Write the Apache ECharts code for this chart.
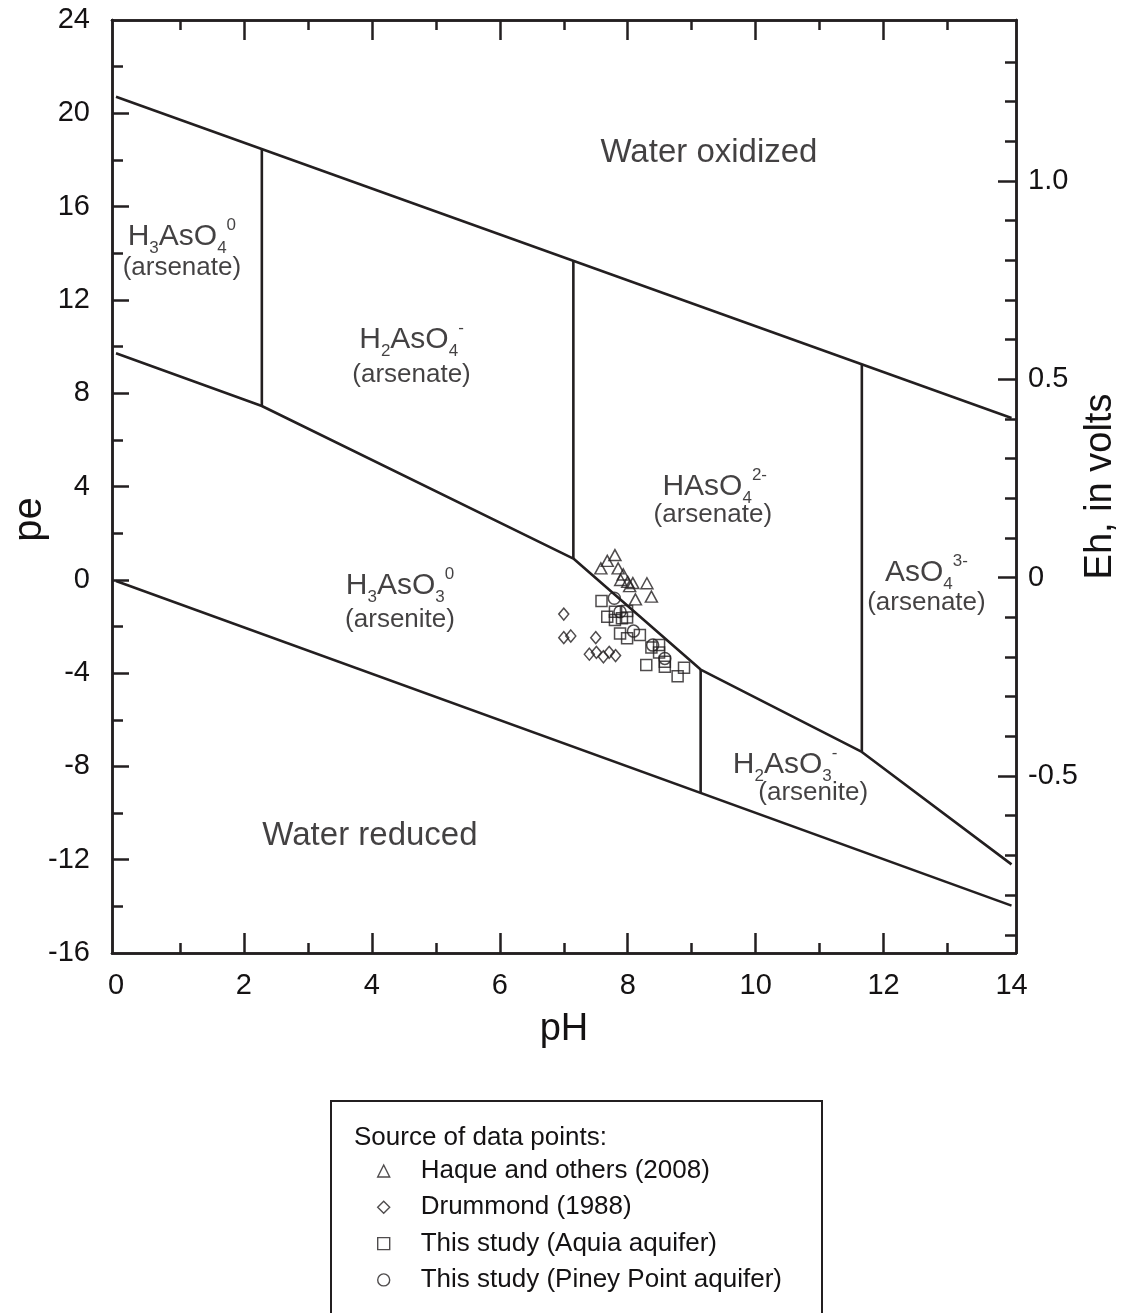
<!DOCTYPE html>
<html>
<head>
<meta charset="utf-8">
<script src="https://cdn.jsdelivr.net/npm/echarts@6/dist/echarts.min.js"></script>
<style>
html,body{margin:0;padding:0;background:#fff;}
#chart{width:1122px;height:1313px;}
</style>
</head>
<body>
<div id="chart"></div>
<script>
// ---- axis ticks / labels ----
const phTicksMajor = [2, 4, 6, 8, 10, 12];
const phTicksMinor = [1, 3, 5, 7, 9, 11, 13];
const phLabels = [0, 2, 4, 6, 8, 10, 12, 14];
const peTicksMajor = [-12, -8, -4, 0, 4, 8, 12, 16, 20];
const peTicksMinor = [-14, -10, -6, -2, 2, 6, 10, 14, 18, 22];
const peLabels = [-16, -12, -8, -4, 0, 4, 8, 12, 16, 20, 24];
const ehTicksMajor = [-0.5, 0, 0.5, 1.0];
const ehTicksMinor = [-0.9, -0.8, -0.7, -0.6, -0.4, -0.3, -0.2, -0.1, 0.1, 0.2, 0.3, 0.4, 0.6, 0.7, 0.8, 0.9, 1.1, 1.2, 1.3];
const ehLabels = [-0.5, 0, 0.5, 1.0];

// ---- stability field boundaries [pH, pe] ----
const waterOxidizedLine = [[0, 20.71], [14, 6.94]];
const waterReducedLine = [[0, -0.05], [14, -13.97]];
const arsenateArseniteLine = [[0, 9.71], [2.28, 7.45], [7.15, 0.91], [9.14, -3.85], [11.66, -7.38], [14, -12.20]];
const h3AsO4H2AsO4Line = [[2.28, 7.45], [2.28, 18.47]];
const h2AsO4HAsO4Line = [[7.15, 0.91], [7.15, 13.68]];
const hAsO4AsO4Line = [[11.66, -7.38], [11.66, 9.24]];
const h3AsO3H2AsO3Line = [[9.14, -3.85], [9.14, -9.14]];

// ---- data points [pH, pe] ----
const haque2008 = [[7.80, 1.06], [7.68, 0.81], [7.58, 0.49], [7.85, 0.49], [7.93, 0.23], [7.89, -0.01], [8.00, -0.09], [8.08, -0.14], [8.03, -0.27], [8.30, -0.15], [8.37, -0.72], [8.12, -0.84]];
const drummond1988 = [[7.00, -1.47], [7.00, -2.48], [7.11, -2.41], [7.50, -2.48], [7.40, -3.19], [7.51, -3.11], [7.62, -3.30], [7.71, -3.11], [7.81, -3.25]];
const aquiaAquifer = [[7.59, -0.91], [7.68, -1.58], [7.80, -1.37], [7.80, -1.72], [7.91, -1.65], [7.99, -1.34], [7.99, -1.62], [7.88, -2.30], [7.99, -2.51], [8.19, -2.37], [8.29, -3.65], [8.37, -2.90], [8.49, -2.80], [8.49, -3.12], [8.58, -3.51], [8.58, -3.73], [8.78, -4.14], [8.88, -3.77]];
const pineyPointAquifer = [[7.79, -0.79], [7.88, -1.37], [8.09, -2.20], [8.39, -2.80], [8.58, -3.37]];

// ---- series names ----
const seriesNames = ['Haque and others (2008)', 'Drummond (1988)', 'This study (Aquia aquifer)', 'This study (Piney Point aquifer)'];

// ---- field labels [pH, pe, text] ----
const fieldLabels = [
  [9.27, 18.30, '{w|Water oxidized}'],
  [3.97, -10.98, '{w|Water reduced}'],
  [1.03, 14.70, '{m|H}{s|3}{m|AsO}{s|4}{p|0}'],
  [1.03, 13.37, '{n|(arsenate)}'],
  [4.62, 10.28, '{m|H}{s|2}{m|AsO}{s|4}{p|-}'],
  [4.62, 8.78, '{n|(arsenate)}'],
  [9.36, 3.98, '{m|HAsO}{s|4}{p|2-}'],
  [9.33, 2.78, '{n|(arsenate)}'],
  [12.67, 0.29, '{m|AsO}{s|4}{p|3-}'],
  [12.67, -0.99, '{n|(arsenate)}'],
  [4.44, -0.27, '{m|H}{s|3}{m|AsO}{s|3}{p|0}'],
  [4.44, -1.72, '{n|(arsenite)}'],
  [10.46, -7.94, '{m|H}{s|2}{m|AsO}{s|3}{p|-}'],
  [10.90, -9.14, '{n|(arsenite)}']
];

const INK = '#231f20';
const TXT = '#141213';
const FONT = '"Liberation Sans", Arial, Helvetica, sans-serif';
const chart = echarts.init(document.getElementById('chart'), null, {renderer: 'canvas'});

function xAx(pos, ticks, len, labels, extra) {
  return Object.assign({
    type: 'value', position: pos, min: -0.0625, max: 14.07, gridIndex: 0,
    axisLine: {show: true, onZero: false, lineStyle: {color: INK, width: 2.5}},
    axisTick: {show: true, inside: true, length: len, customValues: ticks, lineStyle: {color: INK, width: 2.5}},
    axisLabel: labels ? {show: true, customValues: labels, fontSize: 29, fontFamily: FONT, color: TXT, margin: 18} : {show: false},
    splitLine: {show: false}
  }, extra || {});
}
function yAx(pos, min, max, ticks, len, labels, fmt, margin, extra) {
  return Object.assign({
    type: 'value', position: pos, min: min, max: max, gridIndex: 0,
    axisLine: {show: true, onZero: false, lineStyle: {color: INK, width: 2.5}},
    axisTick: {show: true, inside: true, length: len, customValues: ticks, lineStyle: {color: INK, width: 2.5}},
    axisLabel: labels ? {show: true, customValues: labels, formatter: fmt, fontSize: 29, fontFamily: FONT, color: TXT, margin: margin} : {show: false},
    splitLine: {show: false}
  }, extra || {});
}

const lineStyle = {color: INK, width: 2.6};
function boundary(data) {
  return {type: 'line', data: data, showSymbol: false, symbol: 'none', silent: true,
    lineStyle: lineStyle, xAxisIndex: 0, yAxisIndex: 0, z: 3, animation: false};
}
const markStyle = {color: 'rgba(0,0,0,0)', borderColor: INK, borderWidth: 1.5};
function points(name, data, symbol, size) {
  return {type: 'scatter', name: name, data: data, symbol: symbol, symbolSize: size,
    itemStyle: markStyle, xAxisIndex: 0, yAxisIndex: 0, z: 4, animation: false};
}

const option = {
  backgroundColor: '#fff',
  animation: false,
  grid: {left: 112, top: 20, width: 904, height: 933, containLabel: false, outerBoundsMode: 'none'},
  xAxis: [
    xAx('bottom', phTicksMajor, 20, phLabels, {name: 'pH', nameLocation: 'middle', nameGap: 58,
      nameTextStyle: {fontSize: 38, fontFamily: FONT, color: TXT}}),
    xAx('bottom', phTicksMinor, 10, null),
    xAx('top', phTicksMajor, 20, null),
    xAx('top', phTicksMinor, 10, null)
  ],
  yAxis: [
    yAx('left', -16, 24, peTicksMajor, 17, peLabels, v => String(v), 22, {name: 'pe', nameLocation: 'middle',
      nameGap: 62, nameRotate: 90, nameMoveOverlap: false,
      nameTextStyle: {fontSize: 40, fontFamily: FONT, color: TXT, padding: [0, 66, 0, 0]}}),
    yAx('left', -16, 24, peTicksMinor, 11, null),
    yAx('right', -0.946, 1.406, ehTicksMajor, 18, ehLabels,
      v => (Math.abs(v) < 1e-9 ? '0' : (Number.isInteger(v) ? v.toFixed(1) : String(v))), 12,
      {name: 'Eh, in volts', nameLocation: 'middle', nameGap: 66, nameRotate: 90, nameMoveOverlap: false,
       nameTextStyle: {fontSize: 38, fontFamily: FONT, color: TXT}}),
    yAx('right', -0.946, 1.406, ehTicksMinor, 11, null)
  ],
  legend: {
    show: true, orient: 'vertical', left: 372, top: 1153, padding: 5,
    data: seriesNames, itemWidth: 12, itemHeight: 12, itemGap: 10.3,
    selectedMode: false,
    itemStyle: {color: 'rgba(0,0,0,0)', borderColor: INK, borderWidth: 1.4},
    textStyle: {fontSize: 26, fontFamily: FONT, color: TXT, lineHeight: 26, padding: [0, 0, 0, 26]}
  },
  graphic: [
    {type: 'rect', shape: {x: 331, y: 1101, width: 491, height: 260}, style: {fill: 'none', stroke: INK, lineWidth: 2}, z: 10},
    {type: 'text', x: 354, y: 1138, style: {text: 'Source of data points:', font: '26px ' + FONT, fill: TXT,
      align: 'left', verticalAlign: 'middle', textAlign: 'left', textVerticalAlign: 'middle'}, z: 10}
  ],
  series: [
    boundary(waterOxidizedLine),
    boundary(waterReducedLine),
    boundary(arsenateArseniteLine),
    boundary(h3AsO4H2AsO4Line),
    boundary(h2AsO4HAsO4Line),
    boundary(hAsO4AsO4Line),
    boundary(h3AsO3H2AsO3Line),
    points(seriesNames[0], haque2008, 'triangle', [12, 11]),
    points(seriesNames[1], drummond1988, 'diamond', [10, 12]),
    points(seriesNames[2], aquiaAquifer, 'rect', 11),
    points(seriesNames[3], pineyPointAquifer, 'circle', 12),
    {
      type: 'scatter', name: 'fieldLabels', silent: true, symbolSize: 0, z: 5,
      itemStyle: {color: 'rgba(0,0,0,0)'},
      data: fieldLabels.map(d => ({value: [d[0], d[1]], label: {formatter: d[2]}})),
      label: {
        show: true, position: [0, 0], align: 'center', verticalAlign: 'middle', color: TXT,
        textBorderWidth: 0,
        rich: {
          w: {fontSize: 33, fontFamily: FONT, color: TXT, lineHeight: 40, textBorderWidth: 0},
          m: {fontSize: 30, fontFamily: FONT, color: TXT, lineHeight: 40, textBorderWidth: 0},
          s: {fontSize: 17, fontFamily: FONT, color: TXT, lineHeight: 20, verticalAlign: 'bottom', textBorderWidth: 0},
          p: {fontSize: 17, fontFamily: FONT, color: TXT, lineHeight: 20, verticalAlign: 'top', textBorderWidth: 0},
          n: {fontSize: 26, fontFamily: FONT, color: TXT, lineHeight: 30, textBorderWidth: 0}
        }
      },
      labelLayout: {hideOverlap: false},
      animation: false
    }
  ]
};
chart.setOption(option);
</script>
</body>
</html>
